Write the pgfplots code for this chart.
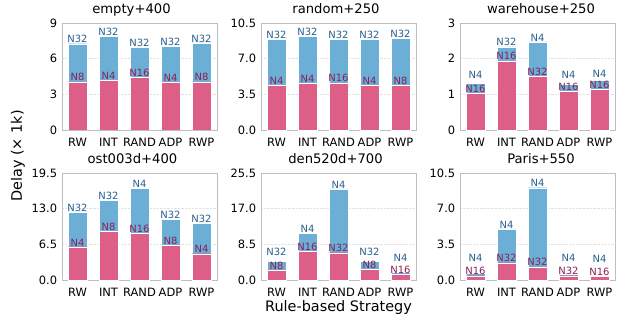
\documentclass[border=0pt]{standalone}
\usepackage{fontspec}
\setmainfont{DejaVu Sans}
\usepackage{pgfplots}
\usepackage{pgfplotstable}
\pgfplotsset{compat=1.18}
\definecolor{barblue}{RGB}{107,174,214}
\definecolor{barpink}{RGB}{221,94,134}
\definecolor{txtblue}{RGB}{43,95,142}
\definecolor{txtpink}{RGB}{138,31,85}
\definecolor{framegray}{RGB}{190,190,190}

% x, blue value, blue label, pink value, pink label, height where the blue label sits
\pgfplotstableread{
x b bl p pl ly
0 7.26 N32 4.05 N8 7.26
1 7.90 N32 4.19 N4 7.90
2 6.98 N32 4.41 N16 6.98
3 7.04 N32 4.05 N4 7.04
4 7.32 N32 4.05 N8 7.32
}\tA
\pgfplotstableread{
x b bl p pl ly
0 8.90 N32 4.40 N4 8.90
1 9.19 N32 4.60 N4 9.19
2 8.87 N32 4.63 N16 8.87
3 8.87 N32 4.40 N4 8.87
4 8.97 N32 4.40 N8 8.97
}\tB
\pgfplotstableread{
x b bl p pl ly
0 1.30 N4 1.04 N16 1.43
1 2.33 N32 1.94 N16 2.33
2 2.47 N4 1.51 N32 2.47
3 1.28 N4 1.09 N16 1.42
4 1.40 N4 1.14 N16 1.45
}\tC
\pgfplotstableread{
x b bl p pl ly
0 12.40 N32 6.06 N4 12.40
1 14.50 N32 8.84 N8 14.50
2 16.66 N4 8.48 N16 16.66
3 11.10 N32 6.36 N8 11.10
4 10.30 N32 4.80 N4 10.30
}\tD
\pgfplotstableread{
x b bl p pl ly
0 4.50 N32 2.40 N8 5.50
1 11.20 N4 6.90 N16 11.20
2 21.70 N4 6.50 N32 21.70
3 4.50 N32 2.60 N8 5.50
4 1.85 N4 1.40 N16 4.30
}\tE
\pgfplotstableread{
x b bl p pl ly
0 0.65 N4 0.42 N16 1.77
1 5.02 N4 1.70 N32 5.02
2 9.06 N4 1.30 N32 9.06
3 0.59 N4 0.42 N32 1.70
4 0.49 N4 0.36 N16 1.62
}\tF

\pgfplotsset{
 panel/.style={
  scale only axis, width=155bp, height=107bp,
  anchor=north west,
  xmin=-0.5, xmax=4.5, ymin=0,
  xtick={0,1,2,3,4}, xticklabels={RW,INT,RAND,ADP,RWP},
  ybar, bar width=0.6,
  axis line style={framegray},
  tick style={draw=none},
  ymajorgrids, grid style={densely dotted, gray!22, line width=0.4pt},
  tick label style={font=\fontsize{11.5}{12}\selectfont},
  yticklabel style={xshift=-1.3bp},
  title style={at={(0.5,1)}, anchor=south, inner sep=0pt, text depth=3bp, yshift=0.5bp, font=\fontsize{13.2}{14}\selectfont},
  point meta=explicit symbolic,
 },
 lbl/.style={nodes near coords, every node near coord/.append style={font=\fontsize{10}{10}\selectfont, inner sep=0.6pt, anchor=south, text=#1}},
 bb/.style={bar shift=0pt, fill=barblue, draw=white, line width=0.3pt},
 pp/.style={bar shift=0pt, fill=barpink, draw=white, line width=0.3pt, lbl=txtpink},
 ll/.style={bar shift=0pt, draw=none, fill=none, lbl=txtblue},
}

\newcommand{\panelplots}[1]{%
\addplot[bb] table[x=x,y=b,meta=bl] {#1};
\addplot[pp] table[x=x,y=p,meta=pl] {#1};
\addplot[ll] table[x=x,y=ly,meta=bl] {#1};
}

\begin{document}
\begin{tikzpicture}
\path[use as bounding box] (0bp,0bp) rectangle (618bp,-320bp);

\begin{axis}[panel, at={(62bp,-23bp)}, title={empty+400}, title style={xshift=-8bp}, ymax=9, ytick={0,3,6,9}, yticklabels={0,3,6,9}]
\panelplots{\tA}
\end{axis}

\begin{axis}[panel, at={(261bp,-23bp)}, title={random+250}, title style={xshift=-2.5bp}, ymax=10.5, ytick={0,3.5,7,10.5}, yticklabels={0.0,3.5,7.0,10.5}]
\panelplots{\tB}
\end{axis}

\begin{axis}[panel, at={(460bp,-23bp)}, title={warehouse+250}, title style={xshift=3.5bp}, ymax=3, ytick={0,1,2,3}, yticklabels={0,1,2,3}]
\panelplots{\tC}
\end{axis}

\begin{axis}[panel, at={(62bp,-173bp)}, title={ost003d+400}, title style={xshift=-7bp}, ymax=19.5, ytick={0,6.5,13,19.5}, yticklabels={0.0,6.5,13.0,19.5}]
\panelplots{\tD}
\end{axis}

\begin{axis}[panel, at={(261bp,-173bp)}, title={den520d+700}, title style={xshift=-3bp}, ymax=25.5, ytick={0,8.5,17,25.5}, yticklabels={0.0,8.5,17.0,25.5}]
\panelplots{\tE}
\end{axis}

\begin{axis}[panel, at={(460bp,-173bp)}, title={Paris+550}, title style={xshift=3.5bp}, ymax=10.5, ytick={0,3.5,7,10.5}, yticklabels={0.0,3.5,7.0,10.5}]
\panelplots{\tF}
\end{axis}

\node[anchor=base, font=\fontsize{14.5}{16}\selectfont] at (338.5bp,-311bp) {Rule-based Strategy};
\node[rotate=90, anchor=center, font=\fontsize{14.5}{16}\selectfont] at (18bp,-156bp) {Delay (× 1k)};
\end{tikzpicture}
\end{document}
